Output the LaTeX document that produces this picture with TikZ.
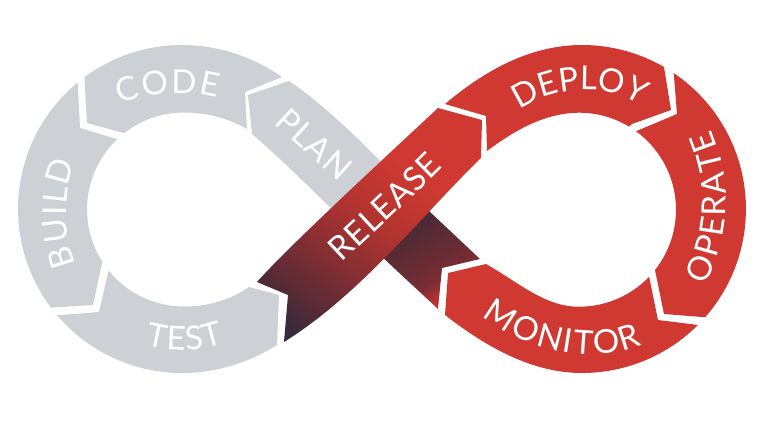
\documentclass[tikz,border=0pt]{standalone}
\usepackage{fontspec}
\setmainfont{Lato}
\usetikzlibrary{decorations.text}
\definecolor{greyb}{RGB}{205,208,212}
\definecolor{redb}{RGB}{207,57,49}
\definecolor{navyb}{RGB}{42,42,64}
\definecolor{gradA}{RGB}{78,42,55}
\definecolor{gradB}{RGB}{133,46,51}
\definecolor{gradC}{RGB}{181,52,47}
\definecolor{gradD}{RGB}{122,44,51}
\definecolor{gradE}{RGB}{71,42,55}
\pgfdeclareverticalshading{relgrad}{100bp}{color(0bp)=(navyb); color(30bp)=(navyb); color(35bp)=(gradA); color(42.5bp)=(gradB); color(50bp)=(gradC); color(57.5bp)=(redb); color(100bp)=(redb)}
\pgfdeclareverticalshading{lowgrad}{100bp}{color(0bp)=(redb); color(44.5bp)=(redb); color(47.75bp)=(gradD); color(55.75bp)=(gradE); color(100bp)=(gradE)}
\newcommand{\outLs}[2]{plot[domain=#1:#2,samples=30] ({182+164*cos(\x)},{209+164*sin(\x)})}
\newcommand{\innLj}[2]{-- plot[domain=#1:#2,samples=30] ({184+97*cos(\x)},{209.5+97*sin(\x)})}
\newcommand{\outRs}[2]{plot[domain=#1:#2,samples=30] ({582+164*cos(\x)},{209+164*sin(\x)})}
\newcommand{\outRj}[2]{-- plot[domain=#1:#2,samples=30] ({582+164*cos(\x)},{209+164*sin(\x)})}
\newcommand{\innRj}[2]{-- plot[domain=#1:#2,samples=30] ({579+97*cos(\x)},{209.7+97*sin(\x)})}
\tikzset{
  greyseg/.style={fill=greyb,draw=none},
  redseg/.style={fill=redb,draw=none},
  arctext/.style={postaction={decorate},decoration={text along path,text align={fit to path},text={|\color{white}\fontsize{33}{33}\selectfont|#1}}}
}
\begin{document}
\begin{tikzpicture}[x=1pt,y=-1pt]
\useasboundingbox (0,0) rectangle (761,421);
% PLAN
\fill[greyseg] (289,81) .. controls (320,102) and (352,132) .. (385,166) -- (335,212) .. controls (308,186) and (280,158) .. (252,134) -- (248,95) -- cycle;
% CODE
\fill[greyseg] \outLs{233.5}{270} .. controls (220,45) and (255,58) .. (282,77) -- (245,92) -- (247,129) .. controls (230,119) and (208,112.5) .. (184,112.5) \innLj{270}{232} -- (87,123) -- cycle;
% BUILD
\fill[greyseg] \outLs{230.5}{143} -- (93,305) -- (102,263) \innLj{147}{226.5} -- (80,128) -- cycle;
% TEST
\fill[greyseg] \outLs{139.6}{90} .. controls (217,373) and (250,362) .. (277,345) -- (279,295) -- (249,287) .. controls (230,300) and (208,306.5) .. (184,306.5) \innLj{90}{141} -- (99,312) -- cycle;
% lower crossing band
\begin{scope}
\clip (429,211) -- (480,259) -- (442,268) -- (438,309) .. controls (420,292) and (400,274) .. (375,250) -- (400,205) -- cycle;
\shade[shading=lowgrad,shading angle=30] (232,62) rectangle (632,462);
\end{scope}
% DEPLOY
\fill[redseg] (445,104) .. controls (490,66) and (535,45) .. (582,45) \outRj{270}{300} -- (671,110) -- (632,124) \innRj{301}{270} .. controls (545,113) and (515,130) .. (487,151) -- (486,116) -- cycle;
% OPERATE
\fill[redseg] \outRs{304}{401.3} -- (664,314) -- (655,270) \innRj{38.3}{-54} -- (677,114) -- cycle;
% MONITOR
\fill[redseg] \outRs{45}{90} .. controls (535,373) and (490,350) .. (445,315) -- (448,273) -- (486,264) .. controls (518,282) and (545,307) .. (579,306.7) \innRj{90}{43.7} -- (658,320) -- cycle;
% RELEASE
\begin{scope}
\clip (257,282) .. controls (285,250) and (380,162) .. (438,108) -- (482,120) -- (481,158) .. controls (425,212) and (360,295) .. (284,342) -- (288,295) -- cycle;
\shade[shading=relgrad,shading angle=-37] (170,12) rectangle (570,412);
\end{scope}
% labels
\path[arctext={CODE}] (120,104) .. controls (140,95) and (190,88) .. (217,98);
\path[arctext={BUILD}] (76,264) .. controls (63,232) and (63,195) .. (75,162);
\path[arctext={TEST}] (146,345) .. controls (170,352) and (200,352) .. (224,343);
\path[arctext={PLAN}] (274,123) .. controls (295,143) and (318,163) .. (339,182);
\path[arctext={RELEASE}] (342,263) .. controls (375,232) and (410,200) .. (443,167);
\path[arctext={DEPLOY}] (520,110) .. controls (545,90) and (600,80) .. (637,103);
\path[arctext={OPERATE}] (705,285) .. controls (732,235) and (732,180) .. (711,130);
\path[arctext={MONITOR}] (482,316) .. controls (515,345) and (590,368) .. (642,345);
\end{tikzpicture}
\end{document}
